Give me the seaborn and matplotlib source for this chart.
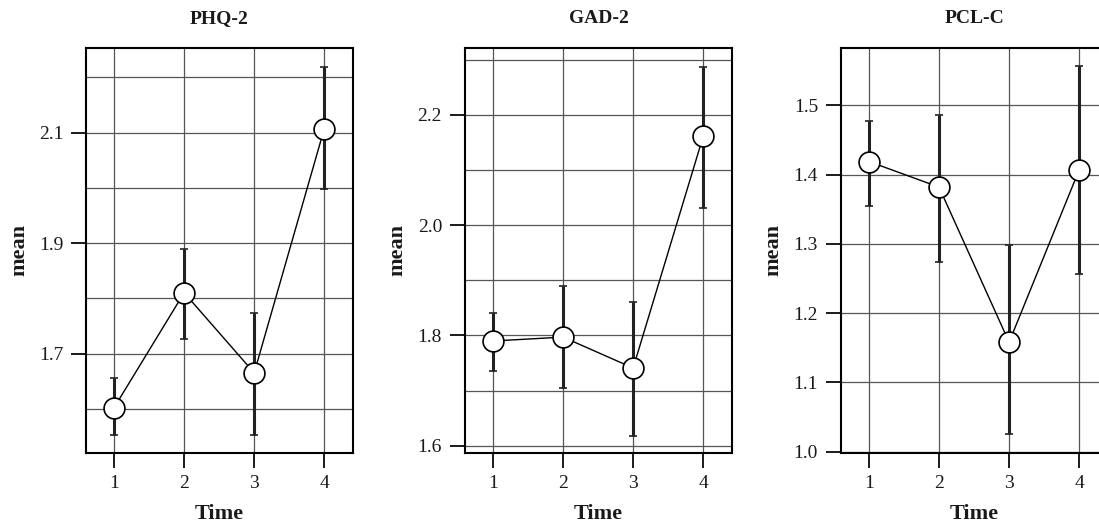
import numpy as np
import pandas as pd
import matplotlib
matplotlib.use("Agg")
import matplotlib.pyplot as plt
from matplotlib.ticker import MultipleLocator
import seaborn as sns

# Values
time = [1, 2, 3, 4]
titles = ["PHQ-2", "GAD-2", "PCL-C"]

phq_mean = [1.602, 1.810, 1.665, 2.107]
phq_low = [1.553, 1.727, 1.552, 1.997]
phq_high = [1.655, 1.890, 1.773, 2.218]

gad_mean = [1.790, 1.797, 1.741, 2.161]
gad_low = [1.735, 1.704, 1.618, 2.031]
gad_high = [1.841, 1.889, 1.860, 2.286]

pcl_mean = [1.419, 1.382, 1.158, 1.407]
pcl_low = [1.355, 1.274, 1.025, 1.256]
pcl_high = [1.478, 1.486, 1.298, 1.557]

panels = [
    (phq_mean, phq_low, phq_high, [1.7, 1.9, 2.1], (1.52, 2.253)),
    (gad_mean, gad_low, gad_high, [1.6, 1.8, 2.0, 2.2], (1.587, 2.321)),
    (pcl_mean, pcl_low, pcl_high, [1.0, 1.1, 1.2, 1.3, 1.4, 1.5], (0.998, 1.583)),
]

sns.set_style("white")
plt.rcParams["font.family"] = ["Liberation Serif", "DejaVu Serif"]
plt.rcParams["text.color"] = "#1a1a1a"
plt.rcParams["axes.labelcolor"] = "#1a1a1a"
plt.rcParams["xtick.color"] = "#1a1a1a"
plt.rcParams["ytick.color"] = "#1a1a1a"

fig = plt.figure(figsize=(10.99, 5.26), dpi=100)
lefts = [0.0783, 0.4231, 0.7652]

for i, (mean, low, high, yticks, ylim) in enumerate(panels):
    ax = fig.add_axes([lefts[i], 0.1388, 0.2429, 0.770])
    df = pd.DataFrame({"Time": time, "mean": mean, "low": low, "high": high})

    ax.errorbar(df["Time"], df["mean"],
                yerr=[df["mean"] - df["low"], df["high"] - df["mean"]],
                fmt="none", ecolor="#222222", elinewidth=2.2, capsize=3,
                capthick=1.2, zorder=3)
    sns.lineplot(data=df, x="Time", y="mean", ax=ax, color="black", lw=1,
                 marker="o", markersize=15, markerfacecolor="white",
                 markeredgecolor="black", markeredgewidth=1.2, zorder=4)

    ax.set_xlim(0.6, 4.41)
    ax.set_ylim(*ylim)
    ax.set_xticks(time)
    ax.set_yticks(yticks)
    ax.set_yticklabels([f"{v:.1f}" for v in yticks])
    ax.yaxis.set_minor_locator(MultipleLocator(0.1))
    ax.grid(True, which="major", axis="both", color="#555555", lw=0.9)
    ax.grid(True, which="minor", axis="y", color="#555555", lw=0.9)
    ax.set_axisbelow(True)
    ax.tick_params(axis="both", which="major", direction="out", length=10.5,
                   width=1.4, labelsize=14, bottom=True, left=True)
    ax.tick_params(axis="x", which="major", pad=5)
    ax.tick_params(axis="y", which="major", pad=6)
    ax.tick_params(axis="y", which="minor", length=0, left=False)
    for s in ax.spines.values():
        s.set_color("black")
        s.set_linewidth(1.5)
    ax.set_title(titles[i], fontsize=14, fontweight="bold", pad=18)
    ax.set_xlabel("Time", fontsize=16, fontweight="bold", labelpad=9)
    ax.set_ylabel("mean", fontsize=16, fontweight="bold", labelpad=7)

fig.savefig("out.png", dpi=100)
